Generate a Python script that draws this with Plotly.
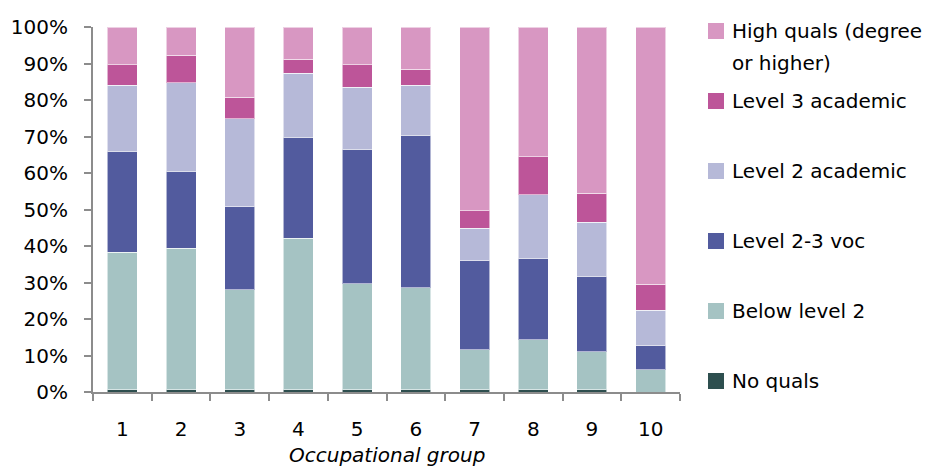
import plotly.graph_objects as go

# Occupational groups on the x axis
groups = [1, 2, 3, 4, 5, 6, 7, 8, 9, 10]
tick_labels = [str(g) for g in groups]

# Share of each qualification level within each group (percent)
no_quals = [0.6, 0.6, 0.6, 0.6, 0.6, 0.6, 0.6, 0.6, 0.6, 0.0]
below_level2 = [37.7, 38.8, 27.4, 41.5, 29.0, 27.9, 11.0, 13.7, 10.4, 6.1]
level23_voc = [27.7, 21.1, 22.7, 27.7, 36.9, 41.9, 24.4, 22.4, 20.7, 6.6]
level2_academic = [18.1, 24.2, 24.1, 17.5, 17.0, 13.7, 8.9, 17.3, 14.8, 9.7]
level3_academic = [5.5, 7.6, 6.0, 3.8, 6.1, 4.3, 4.7, 10.4, 8.0, 7.1]
high_quals = [10.4, 7.7, 19.2, 8.9, 10.4, 11.6, 50.4, 35.6, 45.5, 70.5]

series_names = [
    "No quals",
    "Below level 2",
    "Level 2-3 voc",
    "Level 2 academic",
    "Level 3 academic",
    "High quals (degree<br>or higher)",
]
series_values = [no_quals, below_level2, level23_voc, level2_academic,
                 level3_academic, high_quals]
series_colors = ["#2E4F4F", "#A5C3C3", "#525B9E", "#B6B9D8", "#BD5599", "#D897C2"]

FONT = "DejaVu Sans"
FS = 20
W, H = 932, 466
ML, MR, MT, MB = 93, 252, 27, 74
PW, PH = W - ML - MR, H - MT - MB


def px_x(x):
    """Pixel x (from left) to paper coordinate."""
    return (x - ML) / PW


def px_y(y):
    """Pixel y (from top) to paper coordinate."""
    return (H - MB - y) / PH


fig = go.Figure()
for name, vals, col in zip(series_names, series_values, series_colors):
    fig.add_trace(go.Bar(
        x=groups,
        y=[v / 100 for v in vals],
        name=name.replace("<br>", " "),
        marker=dict(color=col, line=dict(color="rgba(255,255,255,0.55)", width=1)),
        showlegend=False,
    ))

axis_col = "#8C8C8C"
fig.update_layout(
    width=W, height=H,
    margin=dict(l=ML, r=MR, t=MT, b=MB),
    barmode="stack",
    bargap=0.49,
    plot_bgcolor="white",
    paper_bgcolor="white",
    font=dict(family=FONT, size=FS, color="#000000"),
    xaxis=dict(
        range=[0.5, 10.5], automargin=False,
        tickmode="array", tickvals=groups, ticktext=tick_labels,
        ticks="", showgrid=False, zeroline=False,
        showline=True, linecolor=axis_col, linewidth=2,
        minor=dict(tick0=0.5, dtick=1, ticks="outside", ticklen=7,
                   tickwidth=2, tickcolor=axis_col, showgrid=False),
        ticklabelstandoff=18,
    ),
    yaxis=dict(
        range=[0, 1], dtick=0.1, tickformat=".0%", automargin=False,
        showgrid=False, zeroline=False,
        showline=True, linecolor=axis_col, linewidth=2,
        ticks="outside", ticklen=7, tickwidth=2, tickcolor=axis_col,
        ticklabelstandoff=12,
    ),
)

# x axis title
fig.add_annotation(xref="paper", yref="paper", x=0.5, y=px_y(455),
                   xanchor="center", yanchor="middle",
                   text="<i>Occupational group</i>", showarrow=False,
                   font=dict(family=FONT, size=FS, color="#000000"))

# Legend drawn at the right of the plot, top entry first
legend_rows_y = [31, 101, 171, 241, 311, 381]  # pixel centres from top
line_gap = 32                                  # spacing of wrapped lines
order = list(range(len(series_names)))[::-1]
for row_y, idx in zip(legend_rows_y, order):
    fig.add_shape(type="rect", xref="paper", yref="paper",
                  x0=px_x(708), x1=px_x(724),
                  y0=px_y(row_y + 8), y1=px_y(row_y - 8),
                  line=dict(width=0), fillcolor=series_colors[idx])
    for k, line in enumerate(series_names[idx].split("<br>")):
        fig.add_annotation(xref="paper", yref="paper",
                           x=px_x(730), y=px_y(row_y + k * line_gap),
                           xanchor="left", yanchor="middle", align="left",
                           text=line, showarrow=False,
                           font=dict(family=FONT, size=FS, color="#000000"))

fig.write_html("out.html")
